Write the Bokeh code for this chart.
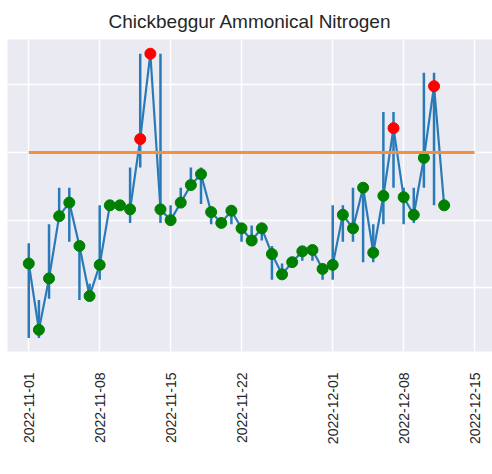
import math
import pandas as pd
from bokeh.plotting import figure
from bokeh.models import ColumnDataSource, FixedTicker, DatetimeTickFormatter, Range1d
from bokeh.embed import file_html
from bokeh.resources import INLINE

# ---- data ----
dates = ["2022-11-01", "2022-11-02", "2022-11-03", "2022-11-04", "2022-11-05",
         "2022-11-06", "2022-11-07", "2022-11-08", "2022-11-09", "2022-11-10",
         "2022-11-11", "2022-11-12", "2022-11-13", "2022-11-14", "2022-11-15",
         "2022-11-16", "2022-11-17", "2022-11-18", "2022-11-19", "2022-11-20",
         "2022-11-21", "2022-11-22", "2022-11-23", "2022-11-24", "2022-11-25",
         "2022-11-26", "2022-11-27", "2022-11-28", "2022-11-29", "2022-11-30",
         "2022-12-01", "2022-12-02", "2022-12-03", "2022-12-04", "2022-12-05",
         "2022-12-06", "2022-12-07", "2022-12-08", "2022-12-09", "2022-12-10",
         "2022-12-11", "2022-12-12"]
values = [1.18, 0.69, 1.07, 1.53, 1.63, 1.31, 0.94, 1.17, 1.61, 1.61,
          1.58, 2.10, 2.73, 1.58, 1.50, 1.63, 1.76, 1.84, 1.56, 1.48,
          1.57, 1.44, 1.35, 1.44, 1.25, 1.10, 1.19, 1.27, 1.28, 1.14,
          1.17, 1.54, 1.44, 1.74, 1.26, 1.68, 2.18, 1.67, 1.54, 1.96,
          2.49, 1.61]
err_low = [0.63, 0.63, 0.92, 1.51, 1.34, 0.91, 0.94, 1.06, 1.60, 1.60,
           1.48, 1.89, 2.72, 1.48, 1.50, 1.61, 1.72, 1.62, 1.47, 1.47,
           1.47, 1.34, 1.31, 1.35, 1.06, 1.09, 1.18, 1.20, 1.20, 1.06,
           1.06, 1.34, 1.34, 1.19, 1.19, 1.47, 1.74, 1.47, 1.48, 1.74,
           1.61, 1.60]
err_high = [1.33, 0.91, 1.47, 1.74, 1.74, 1.31, 1.03, 1.61, 1.62, 1.62,
            1.89, 2.73, 2.74, 2.73, 1.61, 1.74, 1.89, 1.89, 1.57, 1.49,
            1.61, 1.48, 1.46, 1.44, 1.31, 1.18, 1.20, 1.31, 1.29, 1.18,
            1.61, 1.61, 1.74, 1.74, 1.47, 2.30, 2.30, 1.74, 1.74, 2.59,
            2.59, 1.62]
threshold = 2.0
threshold_dates = ["2022-11-01", "2022-12-15"]
tick_dates = ["2022-11-01", "2022-11-08", "2022-11-15", "2022-11-22",
              "2022-12-01", "2022-12-08", "2022-12-15"]
y_grid_values = [0.5, 1.0, 1.5, 2.0, 2.5]
title = "Chickbeggur Ammonical Nitrogen"

# ---- build ----
x = pd.to_datetime(dates)
marker_colors = ["red" if v > threshold else "green" for v in values]
src = ColumnDataSource(dict(x=x, y=values, lo=err_low, hi=err_high, c=marker_colors))

FONT = "Liberation Sans"
TXT = "#262626"
BLUE = "#2a7ab7"
ORANGE = "#f58f3a"

x_start = pd.Timestamp("2022-10-29 21:36")
x_end = pd.Timestamp("2022-12-16 18:30")

p = figure(width=492, height=474, output_backend="svg", toolbar_location=None,
           x_axis_type="datetime",
           x_range=Range1d(x_start, x_end),
           y_range=Range1d(0.53, 2.835),
           min_border_left=7, min_border_right=0, min_border_top=39,
           min_border_bottom=123)

p.background_fill_color = "#EAEAF2"
p.border_fill_color = "white"
p.outline_line_color = None

p.title.text = title
p.title.align = "center"
p.title.text_font = FONT
p.title.text_font_size = "19px"
p.title.text_font_style = "normal"
p.title.text_color = TXT
p.title.standoff = 15

epoch = pd.Timestamp("1970-01-01")
tick_ms = [(pd.Timestamp(d) - epoch) // pd.Timedelta("1ms") for d in tick_dates]
p.xaxis.ticker = FixedTicker(ticks=tick_ms)
fmt = "%Y-%m-%d"
p.xaxis.formatter = DatetimeTickFormatter(days=fmt, months=fmt, years=fmt,
                                          hours=fmt, minutes=fmt, seconds=fmt,
                                          milliseconds=fmt, microseconds=fmt)
p.xaxis.major_label_orientation = math.pi / 2
p.xaxis.major_label_text_font = FONT
p.xaxis.major_label_text_font_size = "14px"
p.xaxis.major_label_text_color = TXT
p.xaxis.major_label_standoff = 15
p.xaxis.axis_line_color = None
p.xaxis.major_tick_line_color = None
p.xaxis.minor_tick_line_color = None

p.yaxis.visible = False
p.ygrid.ticker = FixedTicker(ticks=y_grid_values)
p.xgrid.ticker = FixedTicker(ticks=tick_ms)
for g in (p.xgrid, p.ygrid):
    g.grid_line_color = "white"
    g.grid_line_width = 1.5

p.segment(x0="x", y0="lo", x1="x", y1="hi", source=src, line_color=BLUE, line_width=2.5)
p.line(x="x", y="y", source=src, line_color=BLUE, line_width=2.2)
p.scatter(x="x", y="y", source=src, size=11, fill_color="c", line_color="c")
p.line(x=pd.to_datetime(threshold_dates), y=[threshold, threshold],
       line_color=ORANGE, line_width=3)

open("out.html", "w").write(file_html(p, INLINE))
